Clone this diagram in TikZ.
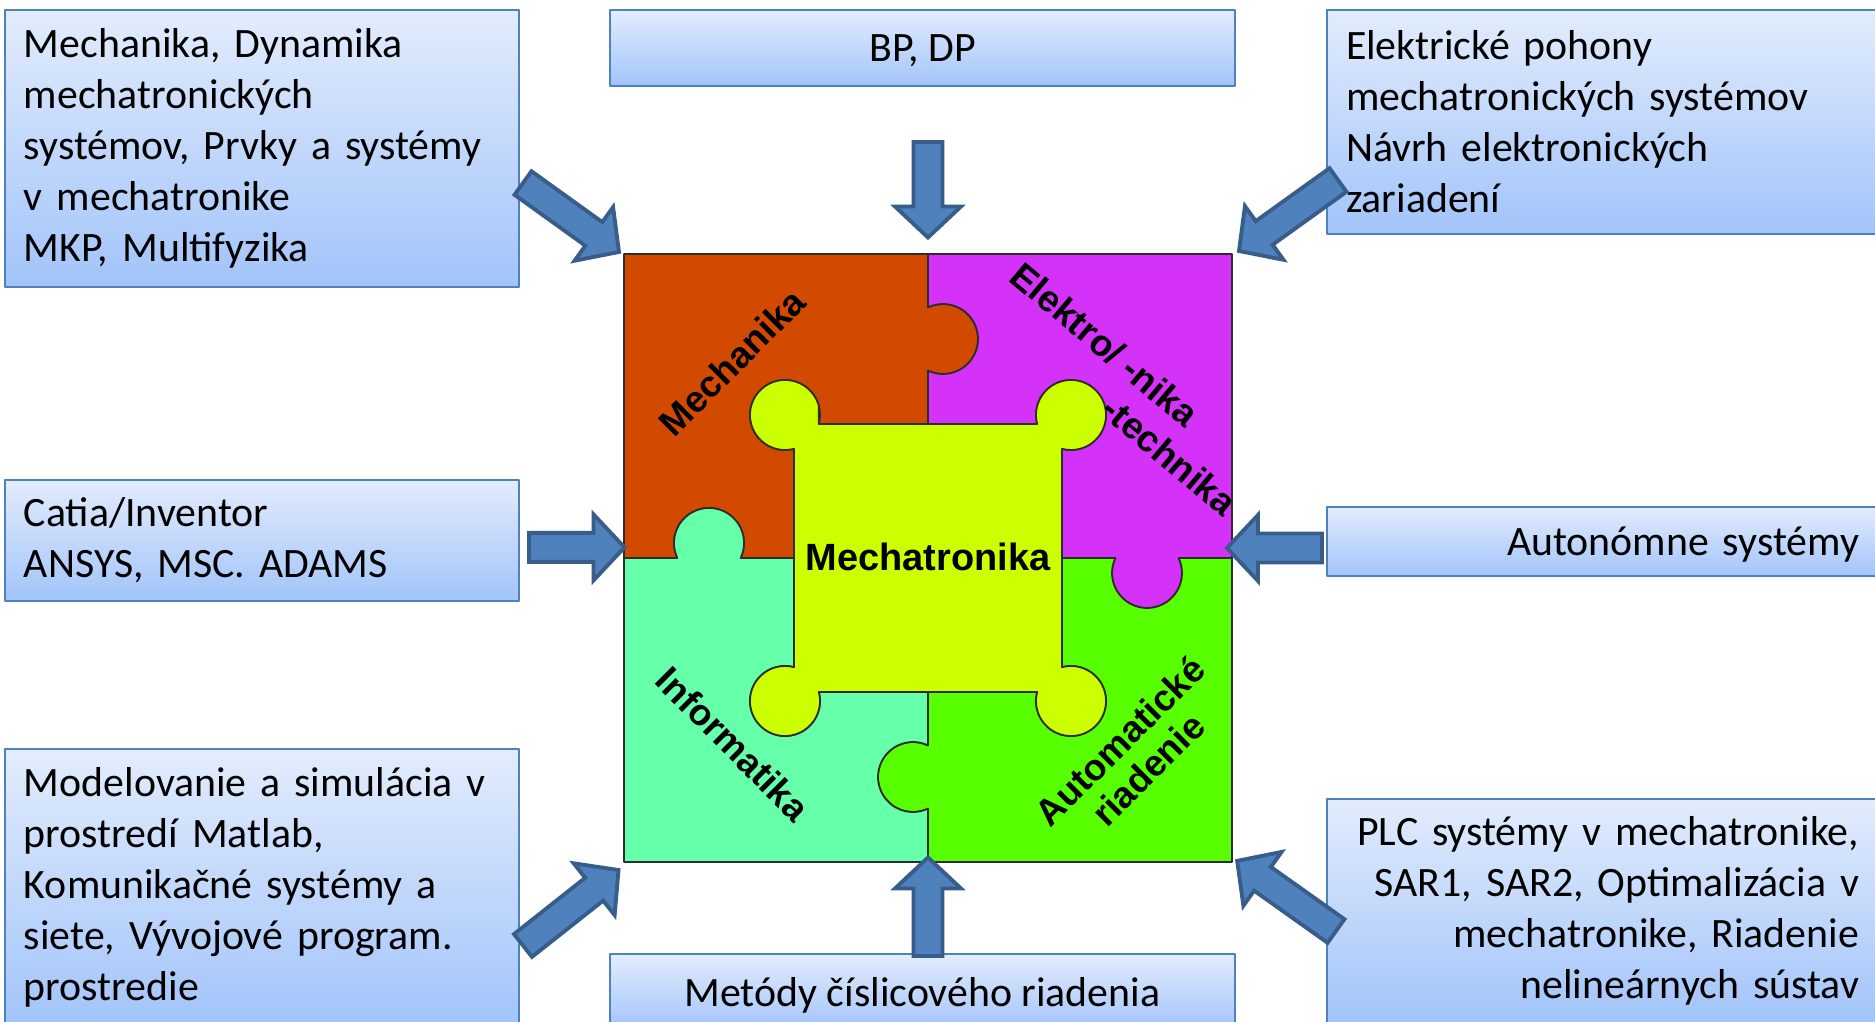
\documentclass[tikz,border=0pt]{standalone}
\usepackage{fontspec}
\setmainfont{Carlito}
\newfontfamily\labelfont{Liberation Sans}
\usetikzlibrary{calc}

\definecolor{mechorange}{RGB}{210,74,0}
\definecolor{elmagenta}{RGB}{212,50,248}
\definecolor{infteal}{RGB}{102,255,170}
\definecolor{autgreen}{RGB}{88,255,0}
\definecolor{mtyellow}{RGB}{204,255,0}
\definecolor{piecegray}{RGB}{45,45,45}
\definecolor{boxtop}{RGB}{226,236,252}
\definecolor{boxbottom}{RGB}{162,196,250}
\definecolor{boxline}{RGB}{79,129,189}
\definecolor{arrowfill}{RGB}{79,129,189}
\definecolor{arrowline}{RGB}{56,93,138}

% block arrow from tail #1 to tip #2
\newcommand{\blockarrow}[2]{%
  \coordinate (#2-h) at ($(#2)!0.31cm!(#1)$);
  \draw[bigarrow] ($(#1)!0.145cm!90:(#2)$) -- ($(#2-h)!0.145cm!90:(#2)$) -- ($(#2-h)!0.33cm!90:(#2)$) -- (#2)
    -- ($(#2-h)!0.33cm!-90:(#2)$) -- ($(#2-h)!0.145cm!-90:(#2)$) -- ($(#1)!0.145cm!-90:(#2)$) -- cycle;}

\begin{document}
\frenchspacing
\begin{tikzpicture}[scale=1, line join=round,
  infobox/.style={draw=boxline, line width=0.6pt, top color=boxtop, bottom color=boxbottom,
    inner xsep=0.19cm, inner ysep=0pt, font=\fontsize{11.9}{14.5}\selectfont},
  onelinebox/.style={infobox, text height=0.28cm, text depth=0cm},
  piece/.style={draw=piecegray, line width=0.5pt},
  piecelabel/.style={inner sep=0pt, font=\labelfont\bfseries\fontsize{10.5}{11.4}\selectfont},
  bigarrow/.style={fill=arrowfill, draw=arrowline, line width=1.1pt, line join=miter}]
\path[use as bounding box, fill=white] (0,0) rectangle (18.75,-10.22);

% text boxes
\node[infobox, minimum width=5.14cm, minimum height=2.77cm, text width=4.76cm, align=left] (mechbox) at (2.62,-1.485)
  {Mechanika, Dynamika\\mechatronických\\systémov, Prvky a systémy\\v mechatronike\\MKP, Multifyzika};
\node[onelinebox, minimum width=6.25cm, minimum height=0.76cm, align=center] (bpbox) at (9.225,-0.48) {BP, DP};
\node[infobox, minimum width=5.51cm, minimum height=2.24cm, text width=5.13cm, align=left] (elbox) at (16.025,-1.22)
  {Elektrické pohony\\mechatronických systémov\\Návrh elektronických\\zariadení};
\node[infobox, minimum width=5.14cm, minimum height=1.21cm, text width=4.76cm, align=left] (swbox) at (2.62,-5.405)
  {Catia/Inventor\\ANSYS, MSC. ADAMS};
\node[onelinebox, minimum width=5.51cm, minimum height=0.69cm, text width=5.13cm, align=right] (autobox) at (16.025,-5.415)
  {Autonómne systémy};
\node[infobox, minimum width=5.14cm, minimum height=2.77cm, text width=4.76cm, align=left] (simbox) at (2.62,-8.875)
  {Modelovanie a simulácia v\\prostredí Matlab,\\Komunikačné systémy a\\siete, Vývojové program.\\prostredie};
\node[onelinebox, minimum width=6.25cm, minimum height=0.76cm, align=center] (numbox) at (9.225,-9.92) {Metódy číslicového riadenia};
\node[infobox, minimum width=5.51cm, minimum height=2.24cm, text width=5.13cm, align=right] (plcbox) at (16.025,-9.11)
  {PLC systémy v mechatronike,\\SAR1, SAR2, Optimalizácia v\\mechatronike, Riadenie\\nelineárnych sústav};

% puzzle pieces
\filldraw[piece, fill=mechorange] (6.24,-2.54) -- (9.28,-2.54) -- (9.28,-3.074) arc[start angle=115.4, end angle=-115.4, radius=0.35]
  -- (9.28,-4.24) -- (8.188,-4.24) arc[start angle=-14.9, end angle=284.9, radius=0.35]
  -- (7.94,-5.58) -- (7.406,-5.58) arc[start angle=-25.4, end angle=205.4, radius=0.35] -- (6.24,-5.58) -- cycle;
\filldraw[piece, fill=elmagenta] (9.28,-2.54) -- (12.32,-2.54) -- (12.32,-5.58) -- (11.786,-5.58) arc[start angle=25.4, end angle=-205.4, radius=0.35]
  -- (10.62,-5.58) -- (10.62,-4.488) arc[start angle=-104.9, end angle=194.9, radius=0.35]
  -- (9.28,-4.24) -- (9.28,-3.706) arc[start angle=-115.4, end angle=115.4, radius=0.35] -- cycle;
\filldraw[piece, fill=autgreen] (12.32,-5.58) -- (12.32,-8.62) -- (9.28,-8.62) -- (9.28,-8.086) arc[start angle=-64.6, end angle=-295.4, radius=0.35]
  -- (9.28,-6.92) -- (10.372,-6.92) arc[start angle=165.1, end angle=464.9, radius=0.35]
  -- (10.62,-5.58) -- (11.154,-5.58) arc[start angle=154.6, end angle=385.4, radius=0.35] -- cycle;
\filldraw[piece, fill=infteal] (6.24,-5.58) -- (6.774,-5.58) arc[start angle=205.4, end angle=-25.4, radius=0.35]
  -- (7.94,-5.58) -- (7.94,-6.672) arc[start angle=75.1, end angle=374.9, radius=0.35]
  -- (9.28,-6.92) -- (9.28,-7.454) arc[start angle=64.6, end angle=295.4, radius=0.35] -- (9.28,-8.62) -- (6.24,-8.62) -- cycle;
\filldraw[piece, fill=mtyellow] (8.188,-4.24) -- (10.372,-4.24) arc[start angle=194.9, end angle=-104.9, radius=0.35]
  -- (10.62,-6.672) arc[start angle=104.9, end angle=-194.9, radius=0.35]
  -- (8.188,-6.92) arc[start angle=14.9, end angle=-284.9, radius=0.35]
  -- (7.94,-4.488) arc[start angle=-75.1, end angle=-345.1, radius=0.35] -- cycle;

% piece labels
\node[piecelabel, rotate=45] (mechlabel) at (7.32,-3.62) {Mechanika};
\node[piecelabel, rotate=-40, align=left, font=\labelfont\bfseries\fontsize{10.5}{12.4}\selectfont] (ellabel) at (11.24,-3.89)
  {Elektro/ -nika\\\hphantom{Elektro/\ }\hspace{3pt}-technika};
\node[piecelabel, rotate=-45] (inflabel) at (7.33,-7.44) {Informatika};
\node[piecelabel, rotate=45, align=center] (autlabel) at (11.34,-7.55) {Automatické\\riadenie};
\node[piecelabel, font=\labelfont\bfseries\fontsize{10.8}{12}\selectfont] (mtlabel) at (9.28,-5.57) {Mechatronika};

% arrows
\coordinate (top-tail) at (9.28,-1.42);
\coordinate (top-tip) at (9.28,-2.375);
\coordinate (bot-tail) at (9.28,-9.56);
\coordinate (bot-tip) at (9.28,-8.575);
\coordinate (left-tail) at (5.29,-5.474);
\coordinate (left-tip) at (6.245,-5.474);
\coordinate (right-tail) at (13.22,-5.48);
\coordinate (right-tip) at (12.27,-5.48);
\coordinate (nw-tail) at (5.23,-1.83);
\coordinate (nw-tip) at (6.19,-2.52);
\coordinate (ne-tail) at (13.38,-1.80);
\coordinate (ne-tip) at (12.39,-2.51);
\coordinate (sw-tail) at (5.23,-9.455);
\coordinate (sw-tip) at (6.185,-8.70);
\coordinate (se-tail) at (13.36,-9.31);
\coordinate (se-tip) at (12.372,-8.609);
\blockarrow{top-tail}{top-tip}
\blockarrow{bot-tail}{bot-tip}
\blockarrow{left-tail}{left-tip}
\blockarrow{right-tail}{right-tip}
\blockarrow{nw-tail}{nw-tip}
\blockarrow{ne-tail}{ne-tip}
\blockarrow{sw-tail}{sw-tip}
\blockarrow{se-tail}{se-tip}
\end{tikzpicture}
\end{document}
